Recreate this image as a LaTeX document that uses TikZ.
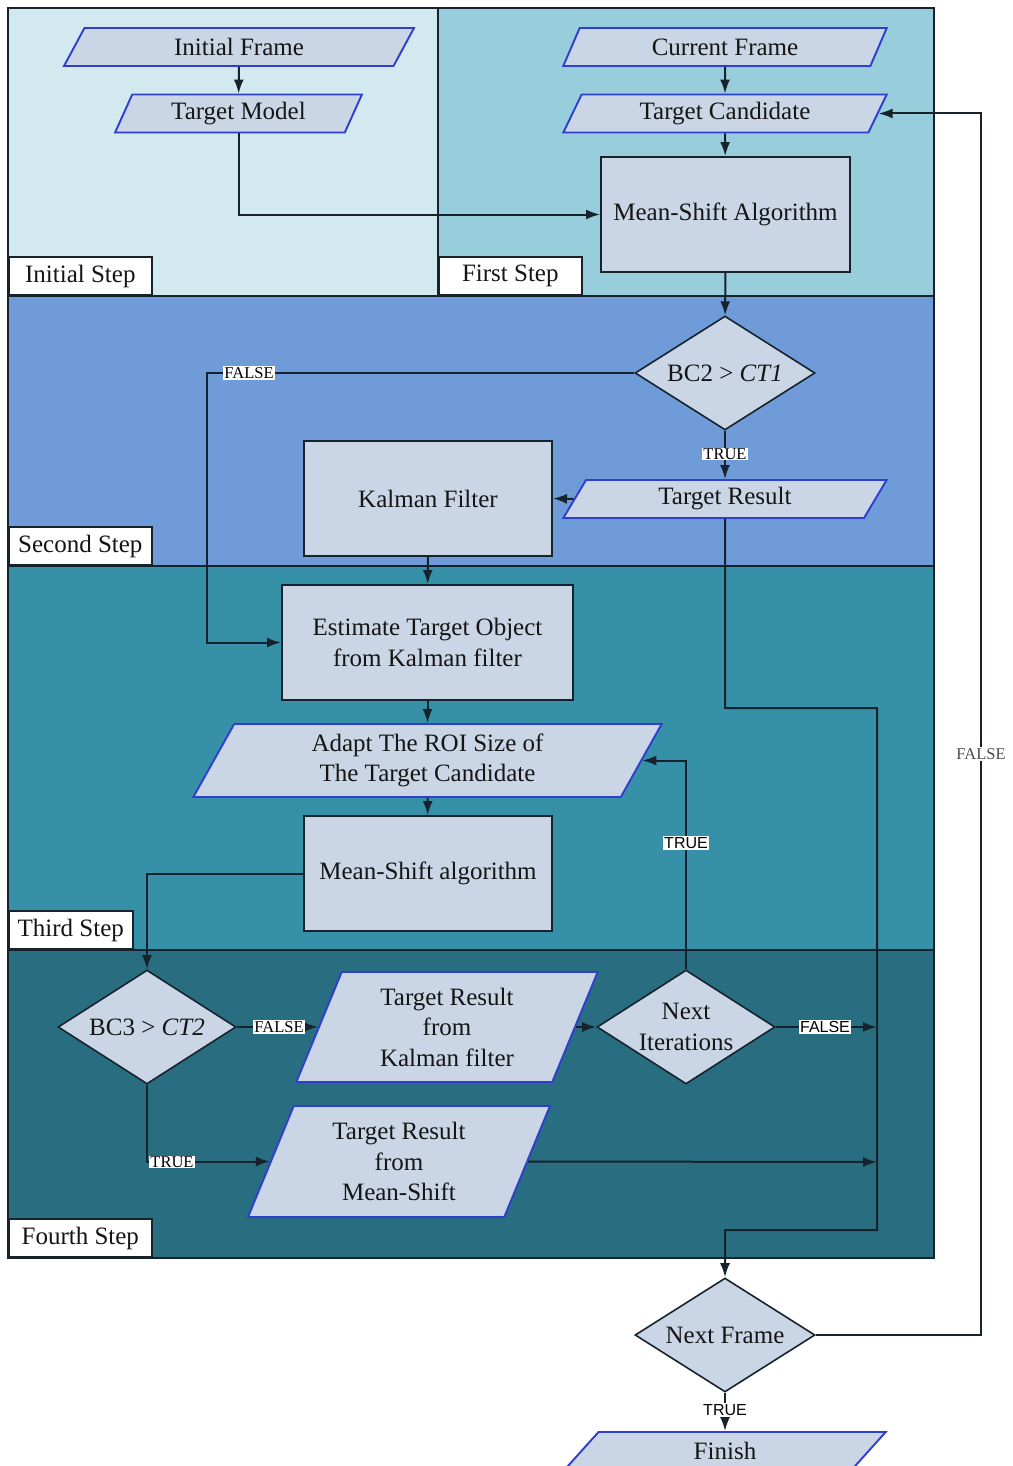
\documentclass[tikz,border=0pt]{standalone}
\usepackage{fontspec}
\setmainfont{Liberation Serif}
\setsansfont{Liberation Sans}
\usetikzlibrary{shapes.geometric,arrows.meta,calc}
\definecolor{pInit}{HTML}{D2E9F0}
\definecolor{pFirst}{HTML}{98CEDC}
\definecolor{pSecond}{HTML}{6F9CD8}
\definecolor{pThird}{HTML}{3690A8}
\definecolor{pFourth}{HTML}{286E80}
\definecolor{lineC}{HTML}{17232C}
\definecolor{ioC}{HTML}{2E3ECF}
\definecolor{nodeC}{HTML}{CAD6E5}
\definecolor{txtC}{HTML}{151515}
\begin{document}
\begin{tikzpicture}[x=1pt,y=-1pt,
  font=\fontsize{25}{30.5}\selectfont, text=txtC,
  panel/.style={draw=lineC, line width=1.8pt},
  steplabel/.style={draw=lineC, fill=white, line width=1.6pt, anchor=south west, inner sep=0pt, minimum height=38pt},
  proc/.style={rectangle, draw=lineC, fill=nodeC, line width=1.9pt, inner sep=2pt, align=center},
  io/.style={trapezium, trapezium left angle=#1, trapezium right angle=180-#1, trapezium stretches=true, draw=ioC, fill=nodeC, line width=1.9pt, inner sep=1pt, align=center},
  io/.default=66,
  dec/.style={diamond, aspect=1.56, draw=lineC, fill=nodeC, line width=1.6pt, inner sep=0pt, minimum width=178pt, minimum height=114pt, align=center},
  conn/.style={draw=lineC, line width=2pt},
  arr/.style={conn, -{Latex[length=14pt,width=10pt]}},
  lab/.style={fill=white, inner sep=1pt, text=black, font=\fontsize{16.5}{18}\selectfont},
  labs/.style={lab, font=\sffamily\fontsize{16}{18}\selectfont}
]
\useasboundingbox (0,0) rectangle (1012,1466);
\fill[white] (0,0) rectangle (1012,1466);

% panels
\path[panel, fill=pInit] (8,8) rectangle (438,296);
\path[panel, fill=pFirst] (438,8) rectangle (934,296);
\path[panel, fill=pSecond] (8,296) rectangle (934,566);
\path[panel, fill=pThird] (8,566) rectangle (934,950);
\path[panel, fill=pFourth] (8,950) rectangle (934,1258);

\node[steplabel, minimum width=143pt] (sInit) at (8,296) {Initial Step};
\node[steplabel, minimum width=143pt] (sFirst) at (438,296) {First Step};
\node[steplabel, minimum width=143pt] (sSecond) at (8,566) {Second Step};
\node[steplabel, minimum width=124pt] (sThird) at (8,950) {Third Step};
\node[steplabel, minimum width=143pt] (sFourth) at (8,1258) {Fourth Step};

% nodes
\node[io, minimum width=350pt, minimum height=38pt] (iframe) at (239,47) {Initial Frame};
\node[io, minimum width=247pt, minimum height=38pt] (tmodel) at (238.5,113.5) {Target Model};
\node[io, minimum width=324pt, minimum height=38pt] (cframe) at (725,47) {Current Frame};
\node[io, minimum width=324pt, minimum height=38pt] (tcand) at (725,113.5) {Target Candidate};
\node[proc, minimum width=249pt, minimum height=115pt] (msa) at (725.5,214.5) {Mean-Shift Algorithm};
\node[dec, minimum width=180pt] (bc2) at (725,373) {BC2 {>} \textit{CT1}};
\node[io, minimum width=324pt, minimum height=38pt] (tres) at (725,499) {Target Result};
\node[proc, minimum width=248pt, minimum height=115pt] (kal) at (428,498.5) {Kalman Filter};
\node[proc, minimum width=291pt, minimum height=115pt] (est) at (427.5,642.5) {Estimate Target Object\\from Kalman filter};
\node[io, minimum width=469pt, minimum height=73pt] (adapt) at (427.5,760.5) {Adapt The ROI Size of\\The Target Candidate};
\node[proc, minimum width=248pt, minimum height=115pt] (msa2) at (428,873.5) {Mean-Shift algorithm};
\node[dec] (bc3) at (147,1027) {BC3 {>} \textit{CT2}};
\node[io=70, minimum width=302pt, minimum height=110pt] (trk) at (447,1027) {Target Result\\from\\Kalman filter};
\node[dec] (nextit) at (686,1027) {Next\\Iterations};
\node[io=70, minimum width=302pt, minimum height=111pt] (trms) at (399,1161.5) {Target Result\\from\\Mean-Shift};
\node[dec, minimum width=180pt] (nframe) at (725,1335) {Next Frame};
\node[io, minimum width=324pt, minimum height=38pt] (finish) at (725,1451) {Finish};

% junction coordinates
\coordinate (f1) at (207,373);
\coordinate (c1) at (725,708);
\coordinate (c2) at (877,708);
\coordinate (c3) at (877,1230);
\coordinate (c4) at (725,1230);
\coordinate (j1) at (877,1027);
\coordinate (j2) at (877,1162);
\coordinate (r1) at (981,1335);

% connectors
\draw[arr] (iframe) -- (tmodel);
\draw[arr] (tmodel.south) |- (msa.west);
\draw[arr] (cframe) -- (tcand);
\draw[arr] (tcand) -- (msa);
\draw[arr] (msa) -- (bc2);
\draw[arr] (bc2.west) -- (f1) |- (est.west);
\draw[arr] (bc2) -- (tres);
\draw[arr] (tres.left side) -- (kal.east);
\draw[arr] (kal) -- (est);
\draw[arr] (tres.south) -- (c1) -- (c2) -- (c3) -- (c4) -- (nframe.north);
\draw[arr] (est) -- (adapt);
\draw[arr] (adapt) -- (msa2);
\draw[arr] (msa2.west) -| (bc3.north);
\draw[arr] (bc3.east) -- (trk.left side);
\draw[arr] (bc3.south) |- (trms.left side);
\draw[arr] (trk.right side) -- (nextit.west);
\draw[arr] (nextit.north) |- (adapt.right side);
\draw[arr] (nextit.east) -- (j1);
\draw[arr] (trms.right side) -- (j2);
\draw[arr] (nframe.east) -- (r1) |- (tcand.right side);
\draw[arr] (nframe) -- (finish);

% labels
\node[lab] (l1) at (249,373) {FALSE};
\node[lab] (l2) at (725,454) {TRUE};
\node[lab] (l3) at (279,1027) {FALSE};
\node[lab] (l4) at (172,1162) {TRUE};
\node[labs] (l5) at (686,843) {TRUE};
\node[labs] (l6) at (825,1027) {FALSE};
\node[lab, text=black!70] (l7) at (981,754) {FALSE};
\node[labs] (l8) at (725,1410) {TRUE};
\end{tikzpicture}
\end{document}
